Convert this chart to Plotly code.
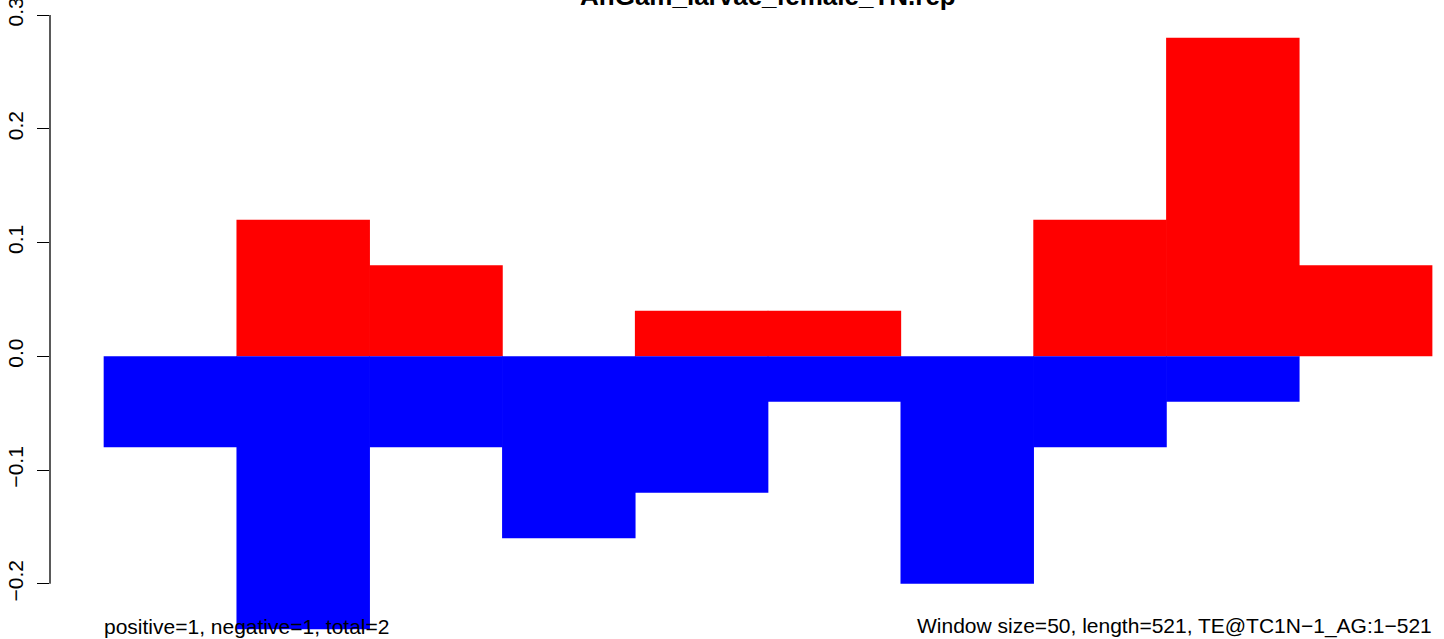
import plotly.graph_objects as go

window_start = [0, 50, 100, 150, 200, 250, 300, 350, 400, 450]
window_size = 50
positive_vals = [0, 0.12, 0.08, 0, 0.04, 0.04, 0, 0.12, 0.28, 0.08]
negative_vals = [-0.08, -0.24, -0.08, -0.16, -0.12, -0.04, -0.2, -0.08, -0.04, 0]
ytick_vals = [-0.2, -0.1, 0.0, 0.1, 0.2, 0.3]
ytick_text = ["\u22120.2", "\u22120.1", "0.0", "0.1", "0.2", "0.3"]
title_text = "AnGam_larvae_female_TN.rep"
left_note = "positive=1, negative=1, total=2"
right_note = "Window size=50, length=521, TE@TC1N\u22121_AG:1\u2212521"

centers = [s + window_size / 2 for s in window_start]
FONT = "Liberation Sans, Arial, Helvetica, sans-serif"
bar_w = window_size * 1.005  # tiny overlap to avoid anti-aliasing seams

fig = go.Figure()
fig.add_trace(go.Bar(x=centers, y=positive_vals, width=bar_w,
                     marker=dict(color="#FF0000", line=dict(width=0)), hoverinfo="skip"))
fig.add_trace(go.Bar(x=centers, y=negative_vals, width=bar_w,
                     marker=dict(color="#0000FF", line=dict(width=0)), hoverinfo="skip"))

fig.update_layout(
    width=1444, height=639,
    barmode="overlay",
    showlegend=False,
    plot_bgcolor="white", paper_bgcolor="white",
    margin=dict(l=50, r=0, t=0, b=0, pad=0),
    font=dict(family=FONT, color="black", size=21),
    xaxis=dict(range=[-20.33, 504.5], visible=False, fixedrange=True),
    yaxis=dict(range=[-0.2485, 0.3132], tickvals=ytick_vals, ticktext=ytick_text,
               tickangle=-90, ticks="outside", ticklen=12, tickwidth=1.3, tickcolor="black",
               showline=False, showgrid=False, zeroline=False, automargin=False,
               ticklabelstandoff=6, ticklabeloverflow="allow",
               tickfont=dict(size=21, family=FONT)),
)

# R-style axis line spanning only the tick range
fig.add_shape(type="line", xref="paper", yref="y", x0=0, x1=0, y0=-0.2, y1=0.3,
              line=dict(color="black", width=1.3))

fig.add_annotation(text="<b>" + title_text + "</b>", x=250, xref="x", y=1 - 7 / 639, yref="paper",
                   xanchor="center", yanchor="bottom", showarrow=False, yshift=-6,
                   font=dict(size=26, family=FONT, color="black"))
fig.add_annotation(text=left_note, x=0, xref="x", y=0, yref="paper",
                   xanchor="left", yanchor="bottom", showarrow=False, xshift=-2, yshift=-1,
                   font=dict(size=21, family=FONT, color="black"))
fig.add_annotation(text=right_note, x=500, xref="x", y=0, yref="paper",
                   xanchor="right", yanchor="bottom", showarrow=False, xshift=2, yshift=-1,
                   font=dict(size=21, family=FONT, color="black"))

fig.write_html("out.html", config={"displayModeBar": False},
               post_script="document.body.style.margin='0px';document.body.style.overflow='hidden';")
